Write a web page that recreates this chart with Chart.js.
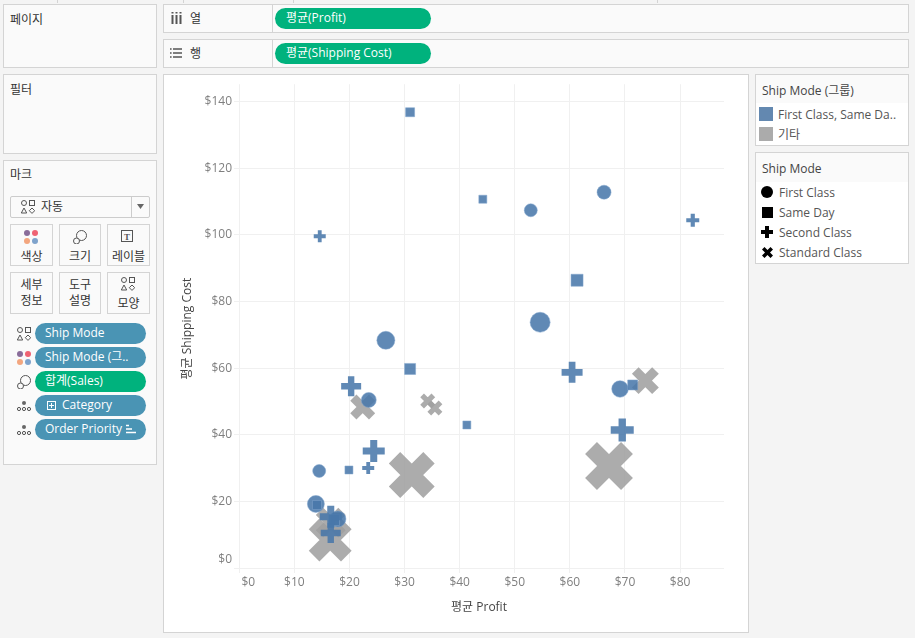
<!DOCTYPE html>
<html lang="ko">
<head>
<meta charset="utf-8">
<title>평균 Profit / Shipping Cost</title>
<script src="https://cdn.jsdelivr.net/npm/chart.js@4/dist/chart.umd.min.js"></script>
<style>
  html, body { margin: 0; padding: 0; background: #f4f4f4; }
  body { width: 915px; height: 638px; position: relative; overflow: hidden;
         font: 12px "Open Sans", "Noto Sans CJK KR", sans-serif; color: #333; }
  .box, .txt, .pill, canvas, svg, .tick { position: absolute; box-sizing: border-box; }
  .box { background: #fafafa; border: 1px solid #d4d4d4; }
  .white { background: #fff; }
  .txt { white-space: nowrap; line-height: 16px; }
  .ctr { text-align: center; }
  .pill { height: 21px; border-radius: 11px; color: #fff; line-height: 19px; white-space: nowrap; }
  .blue { background: #4a94b4; left: 35px; width: 111px; padding-left: 10px; }
  .green { background: #00b27d; }
  .legend { color: #555; }
  .tick { top: 0; width: 1px; height: 3px; background: #d4d4d4; }
  svg { overflow: visible; }
  .sh { fill: none; stroke: #555; stroke-width: 1; }
</style>
</head>
<body>
<svg width="0" height="0" style="position:absolute">
  <symbol id="shapes" viewBox="0 0 14 14">
    <circle class="sh" cx="3" cy="3" r="2.5"/><rect class="sh" x="8.5" y=".5" width="5" height="5"/>
    <path class="sh" d="M3 8 L5.7 13 L.3 13 Z"/><path class="sh" d="M11 8 L13.7 10.7 L11 13.4 L8.3 10.7 Z"/>
  </symbol>
  <symbol id="colors" viewBox="0 0 14 14">
    <circle cx="3" cy="3" r="3" fill="#8a6d9a"/><circle cx="11" cy="3" r="3" fill="#ef6373"/>
    <circle cx="3" cy="11" r="3" fill="#f3a67f"/><circle cx="11" cy="11" r="3" fill="#7fa3cc"/>
  </symbol>
  <symbol id="size" viewBox="0 0 14 14">
    <circle class="sh" cx="8.5" cy="5.5" r="5"/><circle class="sh" cx="3.5" cy="11" r="3" style="fill:#fafafa"/>
  </symbol>
  <symbol id="detail" viewBox="0 0 14 10">
    <circle cx="7" cy="2" r="2" fill="#666"/><circle class="sh" cx="2" cy="8" r="1.6"/>
    <circle class="sh" cx="7" cy="8" r="1.6"/><circle class="sh" cx="12" cy="8" r="1.6"/>
  </symbol>
</svg>

<div class="tick" style="left:57px"></div>
<div class="tick" style="left:183px"></div>
<div class="tick" style="left:293px"></div>
<div class="tick" style="left:657px"></div>

<!-- left column -->
<div class="box" style="left:3px;top:4px;width:154px;height:64px"></div>
<div class="txt" style="left:10px;top:12px">페이지</div>
<div class="box" style="left:3px;top:74px;width:154px;height:80px"></div>
<div class="txt" style="left:10px;top:82px">필터</div>
<div class="box" style="left:3px;top:160px;width:154px;height:305px"></div>
<div class="txt" style="left:10px;top:167px">마크</div>

<div class="box" style="left:10px;top:196px;width:140px;height:22px;border-color:#ccc;border-radius:2px"></div>
<div class="box" style="left:131px;top:196px;width:1px;height:22px;padding:0;border:0;background:#ccc"></div>
<svg style="left:21px;top:200px" width="14" height="14"><use href="#shapes"/></svg>
<div class="txt" style="left:41px;top:199px">자동</div>
<svg style="left:137px;top:204px" width="7" height="5"><path d="M0 0 H7 L3.5 5 Z" fill="#666"/></svg>

<div class="box" style="left:10px;top:224px;width:43px;height:42px"></div>
<div class="box" style="left:59px;top:224px;width:42px;height:42px"></div>
<div class="box" style="left:107px;top:224px;width:43px;height:42px"></div>
<svg style="left:24px;top:230px" width="14" height="14"><use href="#colors"/></svg>
<svg style="left:73px;top:230px" width="14" height="14"><use href="#size"/></svg>
<svg style="left:121px;top:230px" width="14" height="14"><rect x=".5" y=".5" width="11" height="11" fill="none" stroke="#555"/><text x="6" y="9.5" text-anchor="middle" font-size="9" font-family="Liberation Serif" font-weight="bold" fill="#555">T</text></svg>
<div class="txt ctr" style="left:10px;top:249px;width:43px">색상</div>
<div class="txt ctr" style="left:59px;top:249px;width:42px">크기</div>
<div class="txt ctr" style="left:107px;top:249px;width:43px">레이블</div>

<div class="box" style="left:10px;top:272px;width:43px;height:42px"></div>
<div class="box" style="left:59px;top:272px;width:42px;height:42px"></div>
<div class="box" style="left:107px;top:272px;width:43px;height:42px"></div>
<div class="txt ctr" style="left:10px;top:277px;width:43px">세부</div>
<div class="txt ctr" style="left:10px;top:293px;width:43px">정보</div>
<div class="txt ctr" style="left:59px;top:277px;width:42px">도구</div>
<div class="txt ctr" style="left:59px;top:293px;width:42px">설명</div>
<svg style="left:121px;top:277px" width="14" height="14"><use href="#shapes"/></svg>
<div class="txt ctr" style="left:107px;top:296px;width:43px">모양</div>

<svg style="left:17px;top:327px" width="14" height="14"><use href="#shapes"/></svg>
<svg style="left:17px;top:351px" width="14" height="14"><use href="#colors"/></svg>
<svg style="left:17px;top:375px" width="14" height="14"><use href="#size"/></svg>
<svg style="left:17px;top:401px" width="14" height="10"><use href="#detail"/></svg>
<svg style="left:17px;top:425px" width="14" height="10"><use href="#detail"/></svg>
<div class="pill blue" style="top:323px">Ship Mode</div>
<div class="pill blue" style="top:347px">Ship Mode (그..</div>
<div class="pill green" style="top:371px;left:35px;width:111px;padding-left:10px">합계(Sales)</div>
<div class="pill blue" style="top:395px;padding-left:27px">Category</div>
<svg style="left:47px;top:401px" width="9" height="9"><rect x=".5" y=".5" width="8" height="8" fill="none" stroke="#fff"/><path d="M4.5 2 V7 M2 4.5 H7" stroke="#fff"/></svg>
<div class="pill blue" style="top:419px">Order Priority</div>
<svg style="left:126px;top:424px" width="10" height="10"><path d="M0 1.5 H3 M0 5 H6 M0 8.5 H10" stroke="#fff" stroke-width="1.4"/></svg>

<!-- shelves -->
<div class="box" style="left:163px;top:4px;width:746px;height:29px"></div>
<div class="box" style="left:272px;top:4px;width:1px;height:29px;padding:0;border:0;background:#d4d4d4"></div>
<svg style="left:171px;top:12px" width="11" height="12"><path d="M1.5 3 V12 M5.5 3 V12 M9.5 3 V12" stroke="#555" stroke-width="2"/><path d="M1.5 0 V1.5 M5.5 0 V1.5 M9.5 0 V1.5" stroke="#555" stroke-width="2"/></svg>
<div class="txt" style="left:190px;top:11px">열</div>
<div class="pill green" style="left:275px;top:8px;width:156px;padding-left:11px">평균(Profit)</div>

<div class="box" style="left:163px;top:39px;width:746px;height:29px"></div>
<div class="box" style="left:272px;top:39px;width:1px;height:29px;padding:0;border:0;background:#d4d4d4"></div>
<svg style="left:170px;top:48px" width="12" height="10"><path d="M3 1 H12 M3 5 H12 M3 9 H12" stroke="#555" stroke-width="1.6"/><path d="M0 1 H1.6 M0 5 H1.6 M0 9 H1.6" stroke="#555" stroke-width="1.6"/></svg>
<div class="txt" style="left:190px;top:46px">행</div>
<div class="pill green" style="left:275px;top:43px;width:156px;padding-left:11px">평균(Shipping Cost)</div>

<!-- view -->
<div class="box white" style="left:163px;top:74px;width:586px;height:559px"></div>
<canvas id="chart" width="584" height="557" style="left:164px;top:75px"></canvas>

<!-- legends -->
<div class="box white" style="left:755px;top:74px;width:154px;height:72px"></div>
<div class="box" style="left:756px;top:75px;width:152px;height:28px;border:0"></div>
<div class="txt" style="left:762px;top:83px;color:#444">Ship Mode (그룹)</div>
<div class="box" style="left:759px;top:107px;width:14px;height:14px;border:0;background:#6388b0"></div>
<div class="txt legend" style="left:778px;top:107px">First Class, Same Da..</div>
<div class="box" style="left:759px;top:127px;width:14px;height:14px;border:0;background:#ababab"></div>
<div class="txt legend" style="left:778px;top:127px">기타</div>

<div class="box white" style="left:755px;top:152px;width:154px;height:112px"></div>
<div class="box" style="left:756px;top:153px;width:152px;height:29px;border:0"></div>
<div class="txt" style="left:762px;top:161px;color:#444">Ship Mode</div>
<svg style="left:761px;top:186px" width="12" height="12"><circle cx="6" cy="6" r="6"/></svg>
<div class="txt legend" style="left:779px;top:185px">First Class</div>
<svg style="left:762px;top:207px" width="11" height="11"><rect width="11" height="11"/></svg>
<div class="txt legend" style="left:779px;top:205px">Same Day</div>
<svg style="left:761px;top:226px" width="12" height="12"><path d="M4 0 H8 V4 H12 V8 H8 V12 H4 V8 H0 V4 H4 Z"/></svg>
<div class="txt legend" style="left:779px;top:225px">Second Class</div>
<svg style="left:762px;top:247px" width="11" height="11"><path d="M5.5 8 L8.5 11 L11 8.5 L8 5.5 L11 2.5 L8.5 0 L5.5 3 L2.5 0 L0 2.5 L3 5.5 L0 8.5 L2.5 11 Z"/></svg>
<div class="txt legend" style="left:779px;top:245px">Standard Class</div>

<script>
// tick labels
const xTickValues = [0, 10, 20, 30, 40, 50, 60, 70, 80];
const yTickValues = [0, 20, 40, 60, 80, 100, 120, 140];

// values: average profit, average shipping cost, total sales
const firstClassProfit = [66.2, 52.9, 54.6, 26.6, 23.5, 69.1, 14.5, 13.9, 17.9];
const firstClassShipping = [112.8, 107.4, 73.8, 68.4, 50.5, 53.8, 29.2, 19.3, 14.8];
const firstClassSales = [4900, 4225, 10000, 8100, 5625, 6889, 4225, 7225, 6400];

const sameDayProfit = [31.0, 44.2, 61.3, 31.0, 41.3, 19.9, 71.4, 14.1, 17.2];
const sameDayShipping = [136.8, 110.7, 86.4, 59.8, 43.0, 29.5, 55.0, 19.0, 14.5];
const sameDaySales = [2025, 1600, 3600, 3025, 1600, 1600, 2500, 2025, 3025];

const secondClassProfit = [14.6, 82.3, 20.3, 60.4, 69.5, 24.4, 23.4, 16.6, 16.6];
const secondClassShipping = [99.6, 104.4, 54.6, 58.8, 41.5, 35.2, 30.1, 15.5, 10.6];
const secondClassSales = [3600, 4225, 10000, 11025, 13225, 12100, 3600, 12100, 10000];

const standardClassProfit = [31.3, 67.1, 73.7, 22.4, 34.2, 35.5, 16.5, 16.6];
const standardClassShipping = [28.0, 30.7, 56.3, 48.4, 50.2, 48.1, 8.5, 13.7];
const standardClassSales = [52900, 57600, 18225, 15625, 5625, 5625, 46225, 22500];

const BLUE = 'rgba(72,119,170,0.87)';
const GRAY = 'rgba(160,160,160,0.87)';
const AXIS_FONT = '"Open Sans", "Noto Sans CJK KR", sans-serif';

// mark width in pixels grows with the square root of sales
function markSize(sales) {
  return 0.2 * Math.sqrt(sales);
}

function makeSet(label, xs, ys, sales, style) {
  return {
    label: label,
    data: xs.map((x, i) => ({ x: x, y: ys[i] })),
    pointStyle: style.shape,
    pointBackgroundColor: style.color,
    pointBorderColor: style.edge,
    pointBorderWidth: ctx => style.width(markSize(sales[ctx.dataIndex])),
    pointRadius: ctx => style.radius(markSize(sales[ctx.dataIndex])),
    order: style.order
  };
}

const datasets = [
  makeSet('First Class', firstClassProfit, firstClassShipping, firstClassSales, {
    shape: 'circle', color: BLUE, edge: 'rgba(130,165,205,0.5)', order: 3,
    radius: d => d / 2, width: () => 1
  }),
  makeSet('Same Day', sameDayProfit, sameDayShipping, sameDaySales, {
    shape: 'rect', color: BLUE, edge: 'rgba(130,165,205,0.5)', order: 2,
    radius: d => d / Math.SQRT2, width: () => 1
  }),
  makeSet('Second Class', secondClassProfit, secondClassShipping, secondClassSales, {
    shape: 'cross', color: BLUE, edge: BLUE, order: 1,
    radius: d => d / 2, width: d => d * 0.32
  }),
  makeSet('Standard Class', standardClassProfit, standardClassShipping, standardClassSales, {
    shape: 'crossRot', color: GRAY, edge: GRAY, order: 4,
    radius: d => d * 0.53, width: d => d * 0.35
  })
];

// Tableau keeps the $0 labels inside the view, so move them off the axis corner
const zeroLabelNudge = {
  id: 'zeroLabelNudge',
  beforeDraw(chart) {
    if (chart.$nudged) return;
    chart.$nudged = true;
    chart.scales.x.getLabelItems()[0].options.translation[0] += 9;
    chart.scales.y.getLabelItems()[0].options.translation[1] -= 9;
  }
};

new Chart(document.getElementById('chart').getContext('2d'), {
  type: 'scatter',
  data: { datasets: datasets },
  plugins: [zeroLabelNudge],
  options: {
    responsive: false,
    animation: false,
    layout: { autoPadding: false, padding: { top: 9, right: 24, bottom: 0, left: 0 } },
    plugins: { legend: { display: false }, tooltip: { enabled: false } },
    scales: {
      x: {
        min: -0.96,
        max: 87.97,
        afterBuildTicks: s => { s.ticks = xTickValues.map(v => ({ value: v })); },
        afterFit: s => { s.height = 59; },
        grid: { color: '#f0f0f0', drawTicks: false },
        border: { display: false },
        ticks: {
          padding: 2, maxRotation: 0, autoSkip: false, color: '#7f7f7f',
          font: { family: AXIS_FONT, size: 12 },
          callback: v => '$' + v
        },
        title: {
          display: true, text: '평균 Profit', color: '#444',
          font: { family: AXIS_FONT, size: 12 },
          padding: { top: 0, bottom: 17 }
        }
      },
      y: {
        min: -1.4,
        max: 145.2,
        afterBuildTicks: s => { s.ticks = yTickValues.map(v => ({ value: v })); },
        afterFit: s => { s.width = 70; },
        grid: { color: '#f0f0f0', drawTicks: false },
        border: { display: false },
        ticks: {
          padding: 2, autoSkip: false, color: '#7f7f7f',
          font: { family: AXIS_FONT, size: 12 },
          callback: v => '$' + v
        },
        title: {
          display: true, text: '평균 Shipping Cost', color: '#444',
          font: { family: AXIS_FONT, size: 12 },
          padding: { top: 16, bottom: 0 }
        }
      }
    }
  }
});
</script>
</body>
</html>
